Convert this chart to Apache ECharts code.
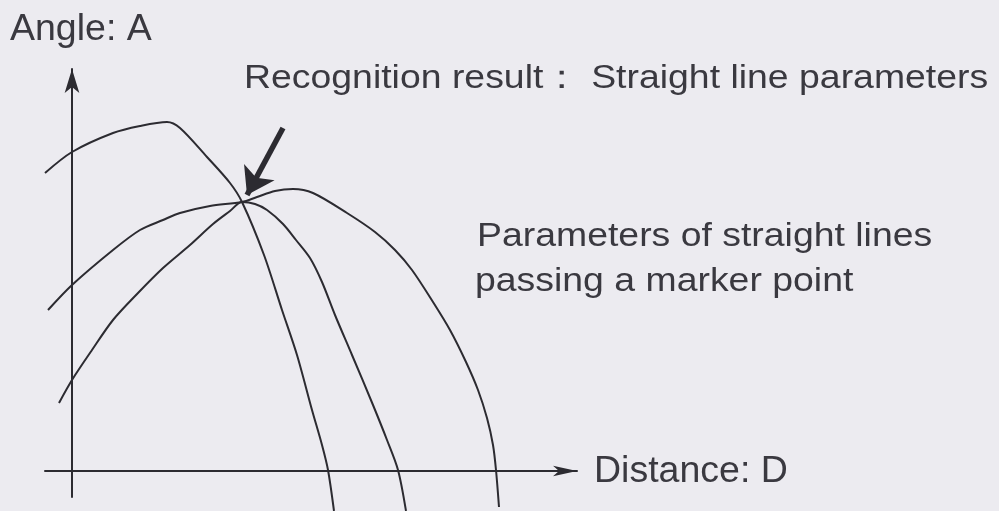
<!DOCTYPE html>
<html>
<head>
<meta charset="utf-8">
<title>Hough parameter space</title>
<script src="https://cdn.jsdelivr.net/npm/echarts/dist/echarts.min.js"></script>
<style>
  html, body { margin: 0; padding: 0; background: #ecebf0; }
  #chart { width: 999px; height: 511px; }
</style>
</head>
<body>
<div id="chart"></div>
<script>
// Parameter space: distance D (horizontal) against angle A (vertical), arbitrary units.
const dRange = [-27, 505];
const aRange = [-26, 402];

// Curve of each marker point: [D, A] samples.
const curveFirst = [
  [-27, 298], [0, 319], [41, 338], [68, 345], [95, 349], [108, 343], [135, 314],
  [158, 288], [170, 269], [192, 216], [210, 161], [225, 116], [240, 61],
  [250, 26], [256, 1], [262, -40]
];
const curveSecond = [
  [-24, 161], [0, 186], [41, 221], [68, 241], [91, 251], [108, 258], [138, 265],
  [170, 269], [185, 274], [203, 280], [221, 282], [241, 278], [275, 258],
  [303, 239], [323, 221], [340, 201], [361, 169], [378, 141], [394, 109],
  [406, 81], [415, 53], [421, 26], [424, 1], [427, -36]
];
const curveThird = [
  [-13, 68], [0, 91], [20, 121], [41, 151], [66, 178], [91, 203], [118, 226],
  [141, 247], [158, 260], [170, 269], [183, 267], [195, 261], [211, 247],
  [224, 231], [238, 213], [250, 189], [263, 156], [280, 116], [301, 66],
  [315, 31], [326, 1], [334, -40]
];

// Pointer to the common intersection (the recognised line parameters).
const pointer = [[211, 343], [175, 276]];

// Text
const axisTitleA = 'Angle: A';
const axisTitleD = 'Distance: D';
const resultText = 'Recognition result： Straight line parameters';
const noteLines = ['Parameters of straight lines', 'passing a marker point'];

const ink = '#2c2b31';
const textInk = '#3a3940';
const textFont = (s) => s + 'px "Liberation Sans", Arial, Helvetica, sans-serif';

function curveSeries(data) {
  return {
    type: 'line',
    data: data,
    showSymbol: false,
    smooth: 0.3,
    clip: false,
    silent: true,
    lineStyle: { color: ink, width: 2 }
  };
}

function label(text, x, y, size, stretch) {
  return {
    type: 'text', x: x, y: y, scaleX: stretch, scaleY: 1,
    style: { text: text, font: textFont(size), fill: textInk, align: 'left', verticalAlign: 'middle' }
  };
}

const chart = echarts.init(document.getElementById('chart'), null, { renderer: 'canvas' });

chart.setOption({
  backgroundColor: '#ecebf0',
  animation: false,
  grid: { left: 45, right: 422, top: 69, bottom: 14, containLabel: false },
  xAxis: {
    type: 'value',
    min: dRange[0],
    max: dRange[1],
    axisLine: {
      show: true,
      onZero: true,
      symbol: ['none', 'arrow'],
      symbolSize: [8, 24],
      lineStyle: { color: ink, width: 2 }
    },
    axisTick: { show: false },
    axisLabel: { show: false },
    splitLine: { show: false }
  },
  yAxis: {
    type: 'value',
    min: aRange[0],
    max: aRange[1],
    axisLine: {
      show: true,
      onZero: true,
      symbol: ['none', 'arrow'],
      symbolSize: [11, 24],
      lineStyle: { color: ink, width: 2 }
    },
    axisTick: { show: false },
    axisLabel: { show: false },
    splitLine: { show: false }
  },
  series: [
    curveSeries(curveFirst),
    curveSeries(curveSecond),
    curveSeries(curveThird),
    {
      type: 'lines',
      coordinateSystem: 'cartesian2d',
      silent: true,
      symbol: ['none', 'arrow'],
      symbolSize: [14, 26],
      lineStyle: { color: ink, width: 5.5, opacity: 1 },
      data: [{ coords: pointer }]
    }
  ],
  graphic: [
    label(axisTitleA, 10, 30, 37.5, 1),
    label(resultText, 244, 79, 34, 1.1),
    label(noteLines[0], 477, 237, 34, 1.1),
    label(noteLines[1], 475, 282, 34, 1.1),
    label(axisTitleD, 594, 472, 37.5, 1)
  ]
});
</script>
</body>
</html>
